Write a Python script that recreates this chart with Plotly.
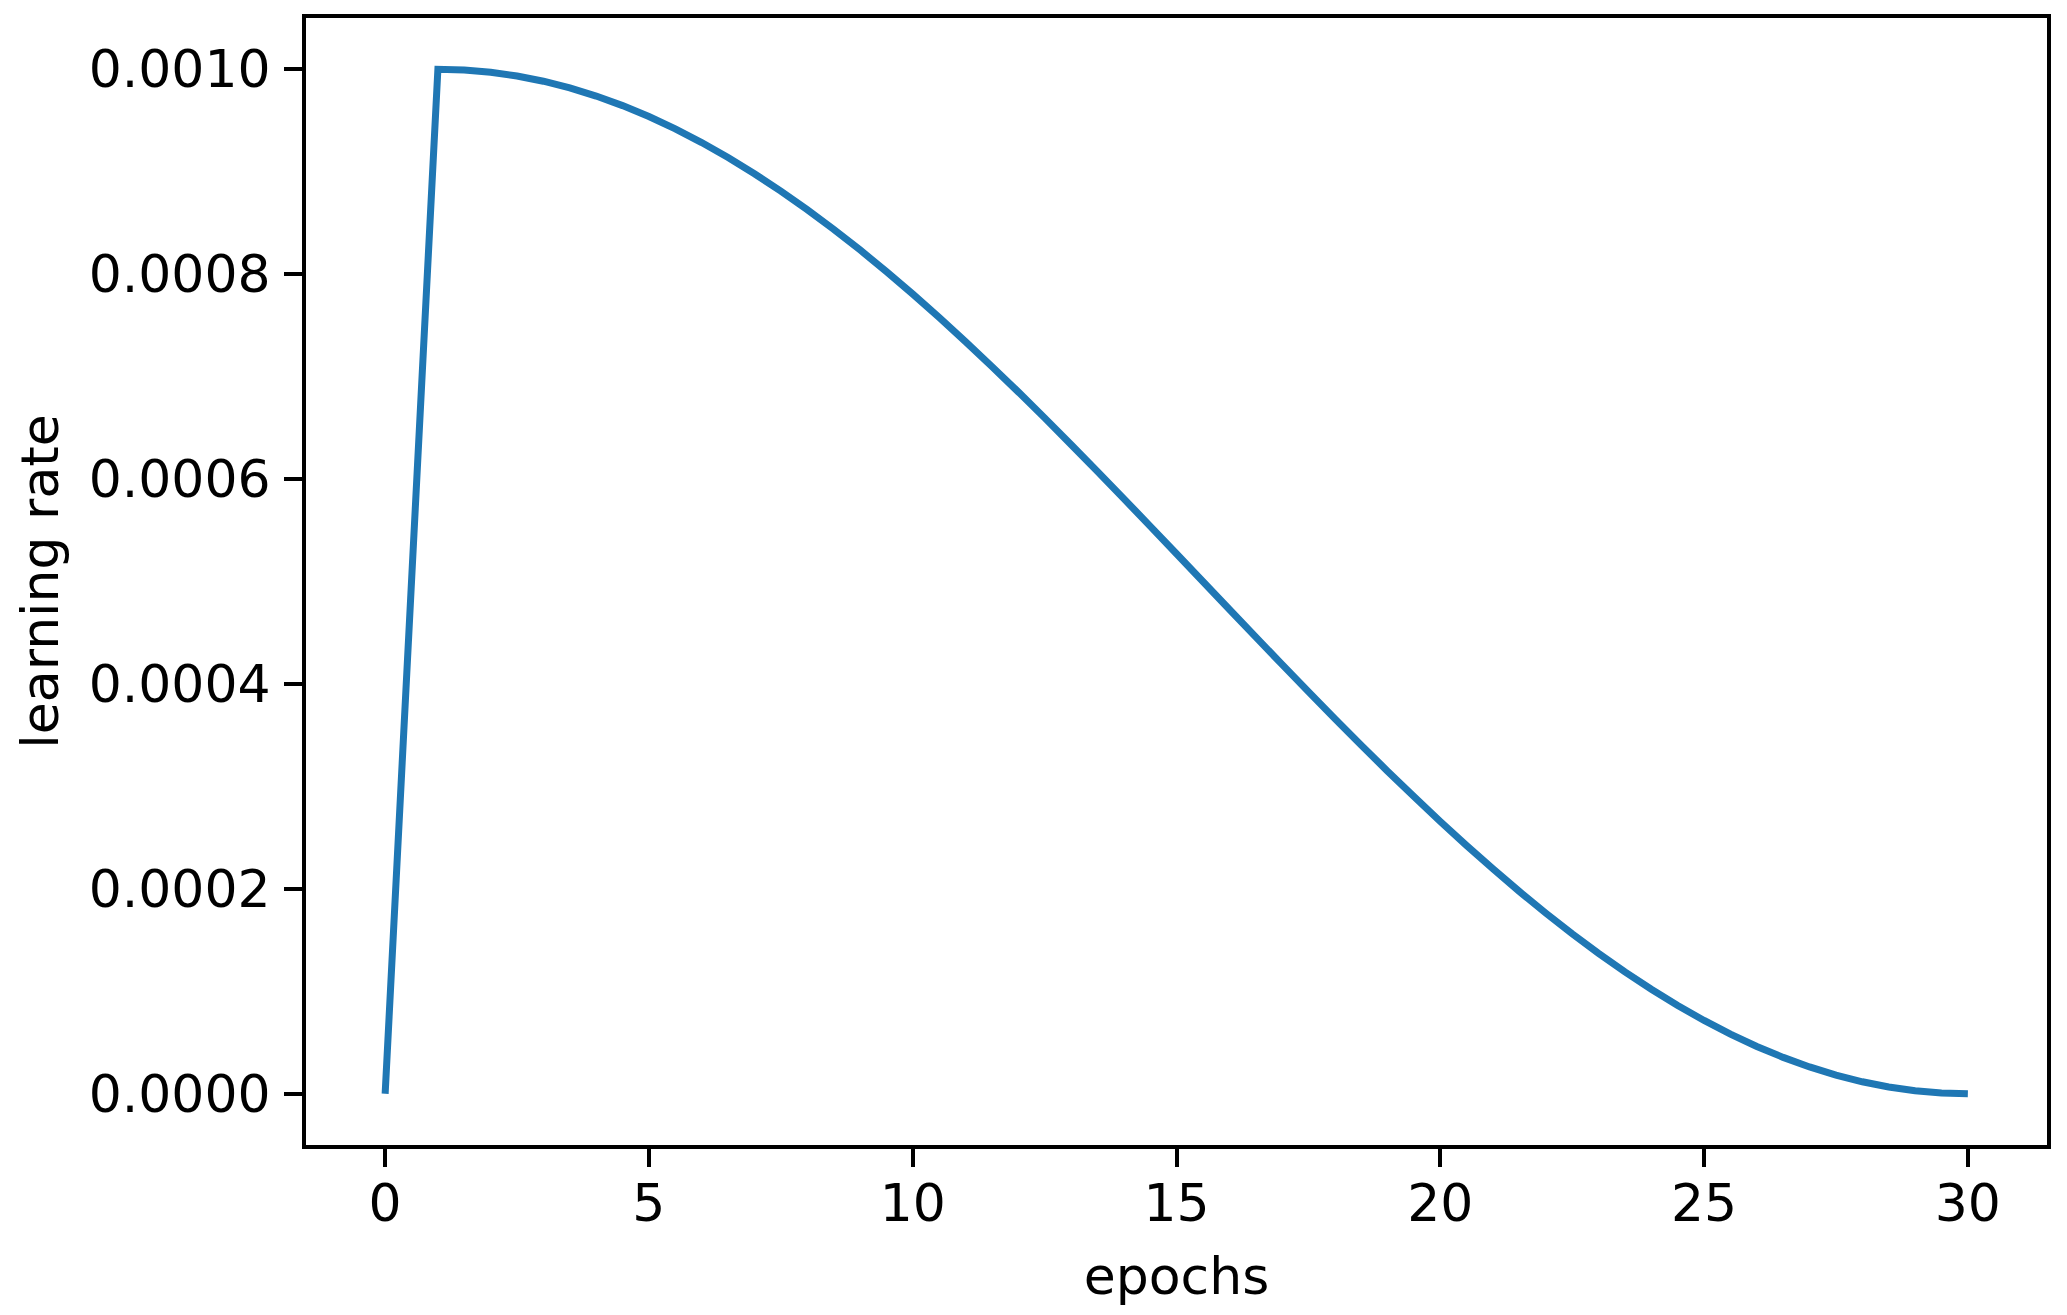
import plotly.graph_objects as go

# warmup epochs, then decay every half epoch
epochs = [0, 1, 1.5, 2, 2.5, 3, 3.5, 4, 4.5, 5, 5.5, 6, 6.5, 7, 7.5, 8, 8.5, 9, 9.5,
          10, 10.5, 11, 11.5, 12, 12.5, 13, 13.5, 14, 14.5, 15, 15.5, 16, 16.5,
          17, 17.5, 18, 18.5, 19, 19.5, 20, 20.5, 21, 21.5, 22, 22.5, 23, 23.5,
          24, 24.5, 25, 25.5, 26, 26.5, 27, 27.5, 28, 28.5, 29, 29.5, 30]
learning_rate = [
    0.0, 0.001, 0.0009993, 0.0009971, 0.0009934, 0.0009883, 0.0009818,
    0.0009738, 0.0009645, 0.0009538, 0.0009418, 0.0009284, 0.0009138,
    0.0008980, 0.0008811, 0.0008630, 0.0008439, 0.0008237, 0.0008026,
    0.0007806, 0.0007578, 0.0007342, 0.0007099, 0.0006851, 0.0006597,
    0.0006338, 0.0006075, 0.0005809, 0.0005541, 0.0005271, 0.0005000,
    0.0004729, 0.0004459, 0.0004191, 0.0003925, 0.0003662, 0.0003403,
    0.0003149, 0.0002901, 0.0002658, 0.0002422, 0.0002194, 0.0001974,
    0.0001763, 0.0001561, 0.0001370, 0.0001189, 0.0001020, 0.0000862,
    0.0000716, 0.0000582, 0.0000462, 0.0000355, 0.0000262, 0.0000182,
    0.0000117, 0.0000066, 0.0000029, 0.0000007, 0.0,
]
x_ticks = [0, 5, 10, 15, 20, 25, 30]
y_ticks = [0.0, 0.0002, 0.0004, 0.0006, 0.0008, 0.0010]
y_tick_text = ["0.0000", "0.0002", "0.0004", "0.0006", "0.0008", "0.0010"]

FONT = "DejaVu Sans"
FONT_SIZE = 52

fig = go.Figure(
    go.Scatter(
        x=epochs,
        y=learning_rate,
        mode="lines",
        line=dict(color="#1f77b4", width=7, simplify=False),
        showlegend=False,
    )
)

axis_style = dict(
    showline=True,
    linecolor="black",
    linewidth=4,
    mirror=True,
    ticks="outside",
    ticklen=18,
    tickwidth=4,
    tickcolor="black",
    showgrid=False,
    zeroline=False,
    tickfont=dict(family=FONT, size=FONT_SIZE, color="black"),
)

fig.update_xaxes(
    range=[-1.5, 31.5],
    tickvals=x_ticks,
    ticklabelstandoff=-8,
    title=dict(text="epochs", font=dict(family=FONT, size=FONT_SIZE, color="black"), standoff=26),
    **axis_style,
)
fig.update_yaxes(
    range=[-0.00005, 0.00105],
    tickvals=y_ticks,
    ticktext=y_tick_text,
    ticklabelstandoff=3,
    title=dict(text="learning rate", font=dict(family=FONT, size=FONT_SIZE, color="black"), standoff=14),
    **axis_style,
)
# the page body adds an 8px margin, so the figure is 8px smaller than the window
fig.update_layout(
    width=2059,
    height=1307,
    margin=dict(l=298, r=20, t=6, b=170),
    plot_bgcolor="white",
    paper_bgcolor="white",
    font=dict(family=FONT),
)

fig.write_html("out.html")
